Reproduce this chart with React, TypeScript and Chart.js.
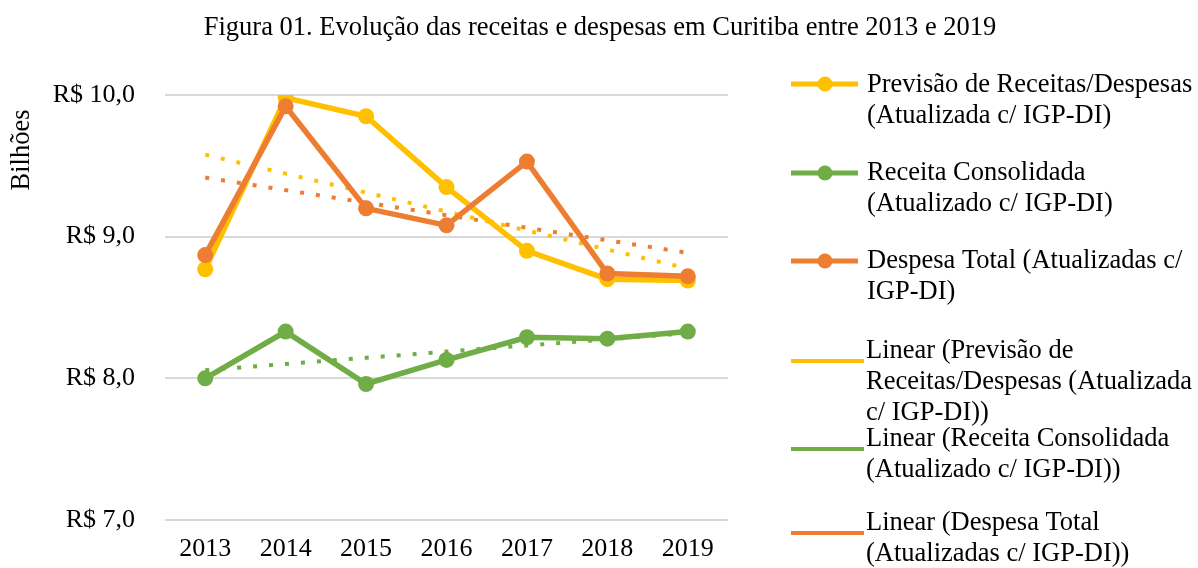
import React, { useEffect, useRef } from "react";
import { Chart, registerables } from "chart.js";

Chart.register(...registerables);

// ---- Data ----
const years = ["2013", "2014", "2015", "2016", "2017", "2018", "2019"];
const previsao = [8.77, 9.98, 9.85, 9.35, 8.9, 8.7, 8.69];
const receita = [8.0, 8.33, 7.96, 8.13, 8.29, 8.28, 8.33];
const despesa = [8.87, 9.92, 9.2, 9.08, 9.53, 8.74, 8.72];
const yTickValues = [7, 8, 9, 10];

const titleText = "Figura 01. Evolução das receitas e despesas em Curitiba entre 2013 e 2019";
const yAxisTitle = "Bilhões";

const legendPrevisao = ["Previsão de Receitas/Despesas", "(Atualizada c/ IGP-DI)"];
const legendReceita = ["Receita Consolidada", "(Atualizado c/ IGP-DI)"];
const legendDespesa = ["Despesa Total (Atualizadas c/", "IGP-DI)"];
const legendTrendPrevisao = ["Linear (Previsão de", "Receitas/Despesas (Atualizada", "c/ IGP-DI))"];
const legendTrendReceita = ["Linear (Receita Consolidada", "(Atualizado c/ IGP-DI))"];
const legendTrendDespesa = ["Linear (Despesa Total", "(Atualizadas c/ IGP-DI))"];

// ---- Styles ----
const YELLOW = "#FFC000";
const GREEN = "#70AD47";
const ORANGE = "#ED7D31";
const FONT = '"Liberation Serif", "Times New Roman", serif';
const FONT_SIZE = 26;
const DECOR_FONT_SIZE = 26.5;

// Linear least-squares trendline (Excel "Linear" trendline) computed from the series
function linearTrend(values: number[]): number[] {
  const n = values.length;
  const xs = values.map((_, i) => i);
  const mx = xs.reduce((a, b) => a + b, 0) / n;
  const my = values.reduce((a, b) => a + b, 0) / n;
  let num = 0;
  let den = 0;
  for (let i = 0; i < n; i++) {
    num += (xs[i] - mx) * (values[i] - my);
    den += (xs[i] - mx) * (xs[i] - mx);
  }
  const slope = num / den;
  const icpt = my - slope * mx;
  return xs.map((x) => icpt + slope * x);
}

type LegendEntry = { lines: string[]; color: string; marker: boolean; lineY: number; textY: number };

const legendEntries: LegendEntry[] = [
  { lines: legendPrevisao, color: YELLOW, marker: true, lineY: 84, textY: 85 },
  { lines: legendReceita, color: GREEN, marker: true, lineY: 173, textY: 173 },
  { lines: legendDespesa, color: ORANGE, marker: true, lineY: 261, textY: 261 },
  { lines: legendTrendPrevisao, color: YELLOW, marker: false, lineY: 361, textY: 351 },
  { lines: legendTrendReceita, color: GREEN, marker: false, lineY: 449, textY: 439 },
  { lines: legendTrendDespesa, color: ORANGE, marker: false, lineY: 533, textY: 523 },
];

const decorPlugin = {
  id: "decor",
  afterDraw(chart: any) {
    const ctx = chart.ctx as CanvasRenderingContext2D;
    ctx.save();
    ctx.fillStyle = "#000";
    ctx.font = `${DECOR_FONT_SIZE}px ${FONT}`;
    // Title
    ctx.textAlign = "center";
    ctx.textBaseline = "middle";
    ctx.fillText(titleText, 600, 28);
    // Y axis title
    ctx.save();
    ctx.translate(22, 150);
    ctx.rotate(-Math.PI / 2);
    ctx.fillText(yAxisTitle, 0, 0);
    ctx.restore();
    // Legend
    const lh = 31;
    legendEntries.forEach((e) => {
      ctx.strokeStyle = e.color;
      ctx.lineCap = "butt";
      if (e.marker) {
        ctx.lineWidth = 5;
        ctx.beginPath();
        ctx.moveTo(791, e.lineY);
        ctx.lineTo(858, e.lineY);
        ctx.stroke();
        ctx.fillStyle = e.color;
        ctx.beginPath();
        ctx.arc(825, e.lineY, 7.5, 0, Math.PI * 2);
        ctx.fill();
      } else {
        ctx.lineWidth = 4;
        ctx.beginPath();
        ctx.moveTo(791, e.lineY);
        ctx.lineTo(864, e.lineY);
        ctx.stroke();
      }
      ctx.fillStyle = "#000";
      ctx.textAlign = "left";
      ctx.textBaseline = "middle";
      e.lines.forEach((t, i) => {
        ctx.fillText(t, e.marker ? 867 : 866, e.textY + i * lh);
      });
    });
    ctx.restore();
  },
};

export default function App() {
  const canvasRef = useRef<HTMLCanvasElement | null>(null);

  useEffect(() => {
    if (!canvasRef.current) return;
    const mainStyle = (color: string) => ({
      borderColor: color,
      backgroundColor: color,
      borderWidth: 5.5,
      pointRadius: 8,
      pointBorderWidth: 0,
      pointBackgroundColor: color,
      tension: 0,
    });
    const trendStyle = (color: string) => ({
      borderColor: color,
      backgroundColor: color,
      borderWidth: 4,
      borderDash: [4, 12],
      borderCapStyle: "butt" as const,
      pointRadius: 0,
      tension: 0,
    });
    const chart = new Chart(canvasRef.current, {
      type: "line",
      data: {
        labels: years,
        datasets: [
          { label: "Previsão", data: previsao, order: 2, ...mainStyle(YELLOW) },
          { label: "Receita", data: receita, order: 3, ...mainStyle(GREEN) },
          { label: "Despesa", data: despesa, order: 1, ...mainStyle(ORANGE) },
          { label: "Linear Previsão", data: linearTrend(previsao), order: 6, ...trendStyle(YELLOW) },
          { label: "Linear Receita", data: linearTrend(receita), order: 5, ...trendStyle(GREEN) },
          { label: "Linear Despesa", data: linearTrend(despesa), order: 4, ...trendStyle(ORANGE) },
        ],
      },
      options: {
        responsive: false,
        animation: false,
        devicePixelRatio: 1,
        layout: { padding: { left: 0, right: 470, top: 95, bottom: 0 } },
        plugins: {
          legend: { display: false },
          title: { display: false },
          tooltip: { enabled: false },
        },
        scales: {
          x: {
            offset: true,
            grid: { display: false, drawTicks: false },
            border: { display: false },
            ticks: {
              color: "#000",
              padding: 14,
              font: { family: FONT, size: FONT_SIZE },
              maxRotation: 0,
            },
            afterFit: (s: any) => {
              s.height = 48;
            },
          },
          y: {
            min: 7,
            max: 10,
            afterBuildTicks: (s: any) => {
              s.ticks = yTickValues.map((v) => ({ value: v }));
            },
            grid: { color: "#D9D9D9", lineWidth: 2, drawTicks: false },
            border: { display: false },
            ticks: {
              color: "#000",
              padding: 30,
              font: { family: FONT, size: FONT_SIZE },
              callback: (v: any) => "R$ " + Number(v).toFixed(1).replace(".", ","),
            },
            afterFit: (s: any) => {
              s.width = 165;
            },
          },
        },
      },
      plugins: [decorPlugin],
    });
    return () => chart.destroy();
  }, []);

  return (
    <div style={{ position: "absolute", left: 0, top: 0, width: 1198, height: 568, background: "#fff" }}>
      <canvas ref={canvasRef} width={1198} height={568} />
    </div>
  );
}
